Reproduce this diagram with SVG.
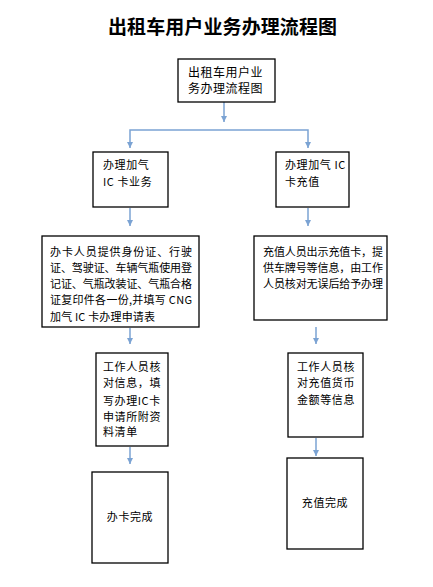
<svg xmlns="http://www.w3.org/2000/svg" width="433" height="587" viewBox="0 0 433 587">
<style>
.box{fill:#fff;stroke:#000;stroke-width:1.3}
.t{font-family:"Noto Sans CJK SC","Liberation Sans",sans-serif;font-size:11px;fill:#000;letter-spacing:0.6px}
.ln{stroke:#7ba3d3;stroke-width:1.5;fill:none}
.title{font-family:"Noto Sans CJK SC",sans-serif;font-size:19px;font-weight:bold;fill:#000}
</style>
<defs>
<marker id="ah" viewBox="0 0 6 6" refX="6" refY="3" markerWidth="6" markerHeight="6" markerUnits="userSpaceOnUse" orient="auto-start-reverse">
<path d="M0,0 L6,3 L0,6 Z" fill="#7ba3d3"/>
</marker>
</defs>
<rect width="433" height="587" fill="#fff"/>
<text class="title" x="108" y="34" textLength="229" lengthAdjust="spacing">出租车用户业务办理流程图</text>
<g id="connectors">
<path class="ln" d="M224,102 V122" marker-end="url(#ah)"/>
<path class="ln" d="M130,148 V130 H308 V148" stroke-width="2" marker-start="url(#ah)" marker-end="url(#ah)"/>
<path class="ln" d="M130,208 V226" marker-end="url(#ah)"/>
<path class="ln" d="M308,208 V226" marker-end="url(#ah)"/>
<path class="ln" d="M130,328 V344" marker-end="url(#ah)"/>
<path class="ln" d="M316,327 V344" marker-end="url(#ah)"/>
<path class="ln" d="M130,447 V464" marker-end="url(#ah)"/>
<path class="ln" d="M316,438 V456" marker-end="url(#ah)"/>
</g>
<g id="n1">
<rect class="box" x="178" y="59" width="97" height="43"/>
<text class="t" style="font-size:12px;letter-spacing:0.5px" x="188" y="77">出租车用户业</text>
<text class="t" style="font-size:12px;letter-spacing:0.5px" x="188" y="93">务办理流程图</text>
</g>
<g id="n2">
<rect class="box" x="93" y="152" width="75" height="55"/>
<text class="t" x="103" y="169">办理加气</text>
<text class="t" x="103" y="186">IC 卡业务</text>
</g>
<g id="n3">
<rect class="box" x="276" y="152" width="73" height="55"/>
<text class="t" x="285" y="169">办理加气 IC</text>
<text class="t" x="285" y="186">卡充值</text>
</g>
<g id="n4">
<rect class="box" x="42" y="236" width="157" height="91"/>
<text class="t" style="letter-spacing:0" x="50" y="256" textLength="142" lengthAdjust="spacing">办卡人员提供身份证、行驶</text>
<text class="t" style="letter-spacing:0" x="50" y="272" textLength="142" lengthAdjust="spacing">证、驾驶证、车辆气瓶使用登</text>
<text class="t" style="letter-spacing:0" x="50" y="288" textLength="142" lengthAdjust="spacing">记证、气瓶改装证、气瓶合格</text>
<text class="t" style="letter-spacing:0" x="50" y="304" textLength="142" lengthAdjust="spacing">证复印件各一份,并填写 CNG</text>
<text class="t" style="letter-spacing:0" x="50" y="321" textLength="105" lengthAdjust="spacing">加气 IC 卡办理申请表</text>
</g>
<g id="n5">
<rect class="box" x="254" y="236" width="133" height="84"/>
<text class="t" style="letter-spacing:0" x="263" y="256" textLength="120" lengthAdjust="spacing">充值人员出示充值卡，提</text>
<text class="t" style="letter-spacing:0" x="263" y="272" textLength="120" lengthAdjust="spacing">供车牌号等信息，由工作</text>
<text class="t" style="letter-spacing:0" x="263" y="288" textLength="120" lengthAdjust="spacing">人员核对无误后给予办理</text>
</g>
<g id="n6">
<rect class="box" x="96" y="353" width="72" height="93"/>
<text class="t" x="103" y="371">工作人员核</text>
<text class="t" x="103" y="387">对信息，填</text>
<text class="t" x="103" y="405">写办理IC卡</text>
<text class="t" x="103" y="421">申请所附资</text>
<text class="t" x="103" y="436">料清单</text>
</g>
<g id="n7">
<rect class="box" x="288" y="353" width="75" height="84"/>
<text class="t" x="297" y="371">工作人员核</text>
<text class="t" x="297" y="387">对充值货币</text>
<text class="t" x="297" y="404">金额等信息</text>
</g>
<g id="n8">
<rect class="box" x="92" y="472" width="76" height="91"/>
<text class="t" x="130" y="521" text-anchor="middle">办卡完成</text>
</g>
<g id="n9">
<rect class="box" x="287" y="458" width="76" height="91"/>
<text class="t" x="325" y="507" text-anchor="middle">充值完成</text>
</g>
</svg>
